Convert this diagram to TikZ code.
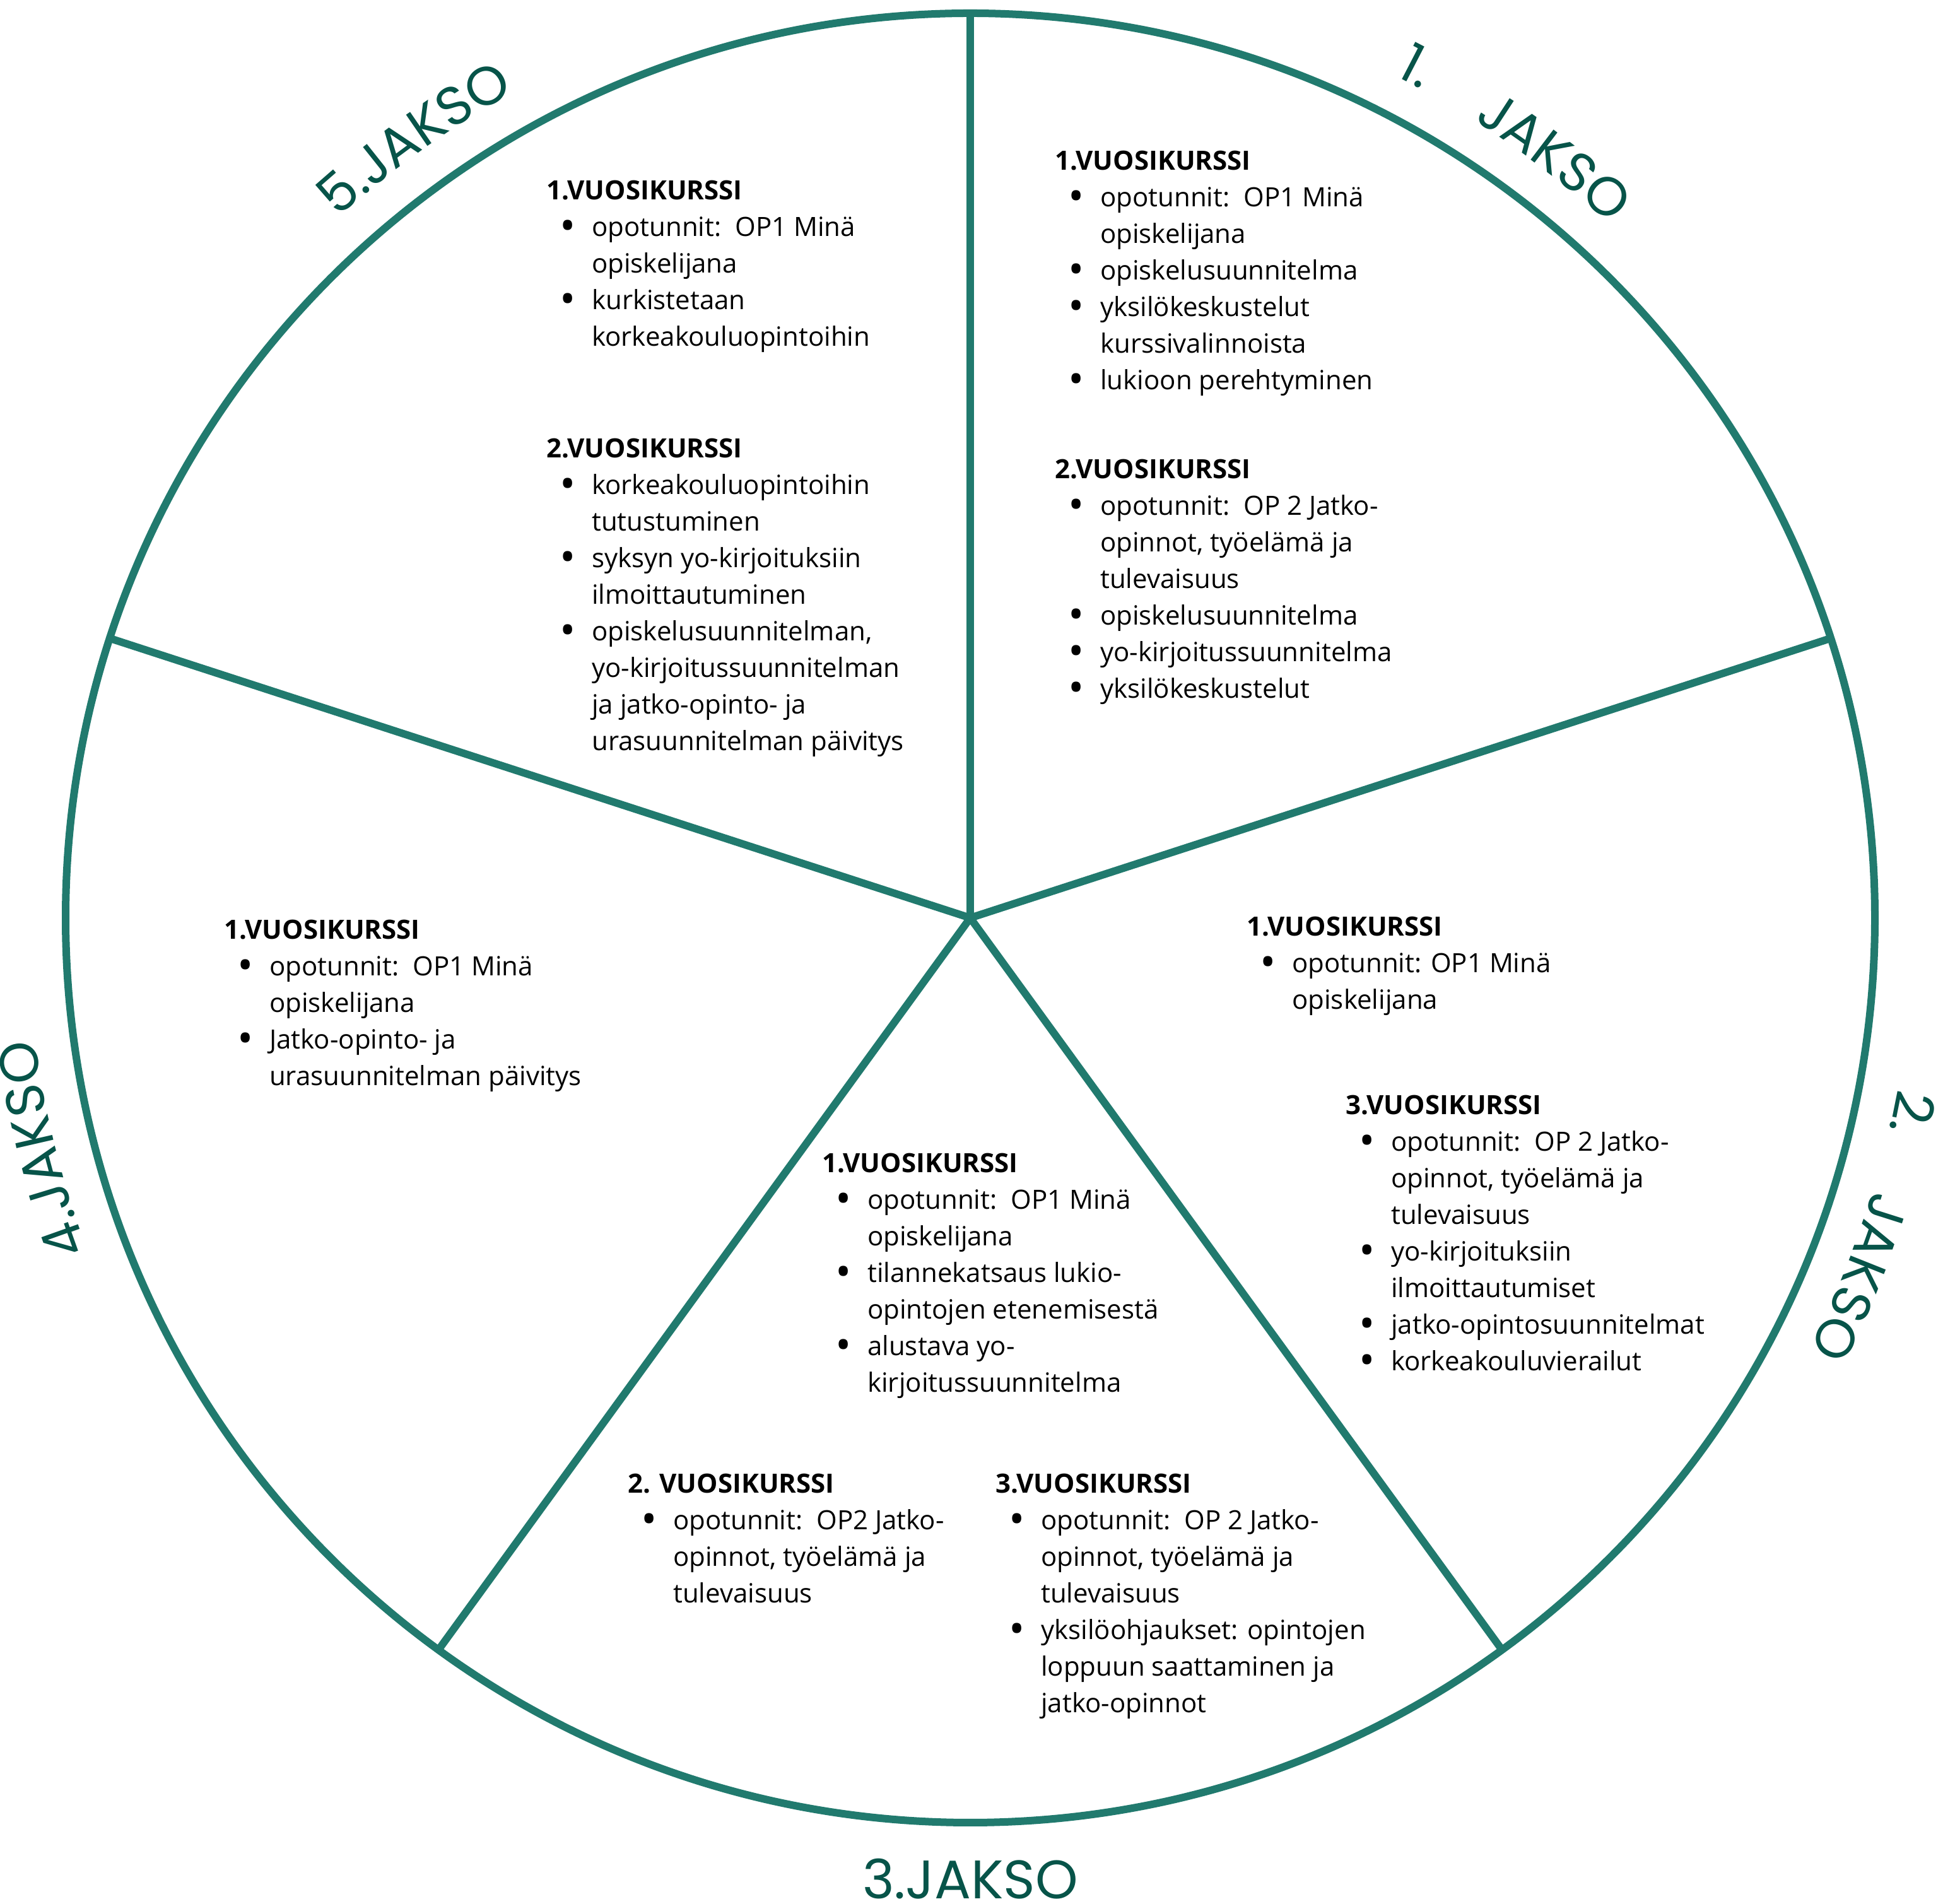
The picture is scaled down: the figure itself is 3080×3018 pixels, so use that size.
\documentclass[tikz,border=0pt]{standalone}
\usepackage{graphicx}
\usepackage{fontspec}
\setmainfont{Open Sans}
\newfontfamily\jk{Poppins}
\usetikzlibrary{decorations.text}
\definecolor{ringc}{RGB}{33,122,110}
\definecolor{jakc}{RGB}{7,84,73}
\newcommand\hd[1]{\textbf{#1}}
\newcommand\bigbul{\raisebox{-7pt}{\scalebox{1.6}{\textbullet}}}
\newcommand\bi[1]{\makebox[68pt]{\bigbul}\hspace{4pt}#1}
\newcommand\ci[1]{\hspace*{72pt}#1}
\tikzset{
  ring/.style={draw=ringc, line width=12pt},
  body/.style={font=\fontsize{42}{58}\selectfont, anchor=base west, inner sep=0pt, text=black},
  jlabel/.style={decorate, decoration={text along path, text align=center, text={#1}}},
  jstraight/.style={font=\jk\fontsize{86}{100}\selectfont, text=jakc, inner sep=0pt, anchor=base}
}
\begin{document}
\begin{tikzpicture}[x=1pt,y=1pt]
\useasboundingbox (0,0) rectangle (3080,3018);
\coordinate (C) at (1538,1563);
\draw[ring] (C) circle[radius=1434];
\foreach \a/\n in {90/p1,18/p2,-54/p3,-126/p4,162/p5}{
  \coordinate (\n) at ([shift={(\a:1434)}]C);
  \draw[ring] (C) -- (\n);
}
% curved labels
\path[jlabel={|\jk\fontsize{86}{100}\selectfont\color{jakc}|1.}] ([shift={(87.3:1495)}]C) arc[start angle=87.3,end angle=37.3,radius=1495];
\path[jlabel={|\jk\fontsize{86}{100}\selectfont\color{jakc}|JAKSO}] ([shift={(77.5:1495)}]C) arc[start angle=77.5,end angle=27.5,radius=1495];
\path[jlabel={|\jk\fontsize{86}{100}\selectfont\color{jakc}|2.}] ([shift={(13.3:1495)}]C) arc[start angle=13.3,end angle=-36.7,radius=1495];
\path[jlabel={|\jk\fontsize{86}{100}\selectfont\color{jakc}|JAKSO}] ([shift={(3:1495)}]C) arc[start angle=3,end angle=-47,radius=1495];
\path[jlabel={|\jk\fontsize{86}{100}\selectfont\color{jakc}|4.JAKSO}] ([shift={(219:1495)}]C) arc[start angle=219,end angle=169,radius=1495];
\path[jlabel={|\jk\fontsize{86}{100}\selectfont\color{jakc}|5.JAKSO}] ([shift={(150.5:1495)}]C) arc[start angle=150.5,end angle=100.5,radius=1495];
\node[jstraight] (j3) at (1538,8) {3.JAKSO};
% text blocks
\node[body] (A) at (1672,2748) {\begin{tabular}[t]{@{}l@{}}
\hd{1.VUOSIKURSSI}\\
\bi{opotunnit:\ \ OP1 Minä}\\
\ci{opiskelijana}\\
\bi{opiskelusuunnitelma}\\
\bi{yksilökeskustelut}\\
\ci{kurssivalinnoista}\\
\bi{lukioon perehtyminen}
\end{tabular}};
\node[body] (B) at (1672,2259) {\begin{tabular}[t]{@{}l@{}}
\hd{2.VUOSIKURSSI}\\
\bi{opotunnit:\ \ OP 2 Jatko-}\\
\ci{opinnot, työelämä ja}\\
\ci{tulevaisuus}\\
\bi{opiskelusuunnitelma}\\
\bi{yo-kirjoitussuunnitelma}\\
\bi{yksilökeskustelut}
\end{tabular}};
\node[body] (Cb) at (866,2701) {\begin{tabular}[t]{@{}l@{}}
\hd{1.VUOSIKURSSI}\\
\bi{opotunnit:\ \ OP1 Minä}\\
\ci{opiskelijana}\\
\bi{kurkistetaan}\\
\ci{korkeakouluopintoihin}
\end{tabular}};
\node[body] (D) at (866,2292) {\begin{tabular}[t]{@{}l@{}}
\hd{2.VUOSIKURSSI}\\
\bi{korkeakouluopintoihin}\\
\ci{tutustuminen}\\
\bi{syksyn yo-kirjoituksiin}\\
\ci{ilmoittautuminen}\\
\bi{opiskelusuunnitelman,}\\
\ci{yo-kirjoitussuunnitelman}\\
\ci{ja jatko-opinto- ja}\\
\ci{urasuunnitelman päivitys}
\end{tabular}};
\node[body] (E) at (355,1529) {\begin{tabular}[t]{@{}l@{}}
\hd{1.VUOSIKURSSI}\\
\bi{opotunnit:\ \ OP1 Minä}\\
\ci{opiskelijana}\\
\bi{Jatko-opinto- ja}\\
\ci{urasuunnitelman päivitys}
\end{tabular}};
\node[body] (F) at (1976,1534) {\begin{tabular}[t]{@{}l@{}}
\hd{1.VUOSIKURSSI}\\
\bi{opotunnit: OP1 Minä}\\
\ci{opiskelijana}
\end{tabular}};
\node[body] (G) at (2133,1251) {\begin{tabular}[t]{@{}l@{}}
\hd{3.VUOSIKURSSI}\\
\bi{opotunnit:\ \ OP 2 Jatko-}\\
\ci{opinnot, työelämä ja}\\
\ci{tulevaisuus}\\
\bi{yo-kirjoituksiin}\\
\ci{ilmoittautumiset}\\
\bi{jatko-opintosuunnitelmat}\\
\bi{korkeakouluvierailut}
\end{tabular}};
\node[body] (H) at (1303,1159) {\begin{tabular}[t]{@{}l@{}}
\hd{1.VUOSIKURSSI}\\
\bi{opotunnit:\ \ OP1 Minä}\\
\ci{opiskelijana}\\
\bi{tilannekatsaus lukio-}\\
\ci{opintojen etenemisestä}\\
\bi{alustava yo-}\\
\ci{kirjoitussuunnitelma}
\end{tabular}};
\node[body] (I) at (995,651) {\begin{tabular}[t]{@{}l@{}}
\hd{2. VUOSIKURSSI}\\
\bi{opotunnit:\ \ OP2 Jatko-}\\
\ci{opinnot, työelämä ja}\\
\ci{tulevaisuus}
\end{tabular}};
\node[body] (J) at (1578,651) {\begin{tabular}[t]{@{}l@{}}
\hd{3.VUOSIKURSSI}\\
\bi{opotunnit:\ \ OP 2 Jatko-}\\
\ci{opinnot, työelämä ja}\\
\ci{tulevaisuus}\\
\bi{yksilöohjaukset: opintojen}\\
\ci{loppuun saattaminen ja}\\
\ci{jatko-opinnot}
\end{tabular}};
\end{tikzpicture}
\end{document}
